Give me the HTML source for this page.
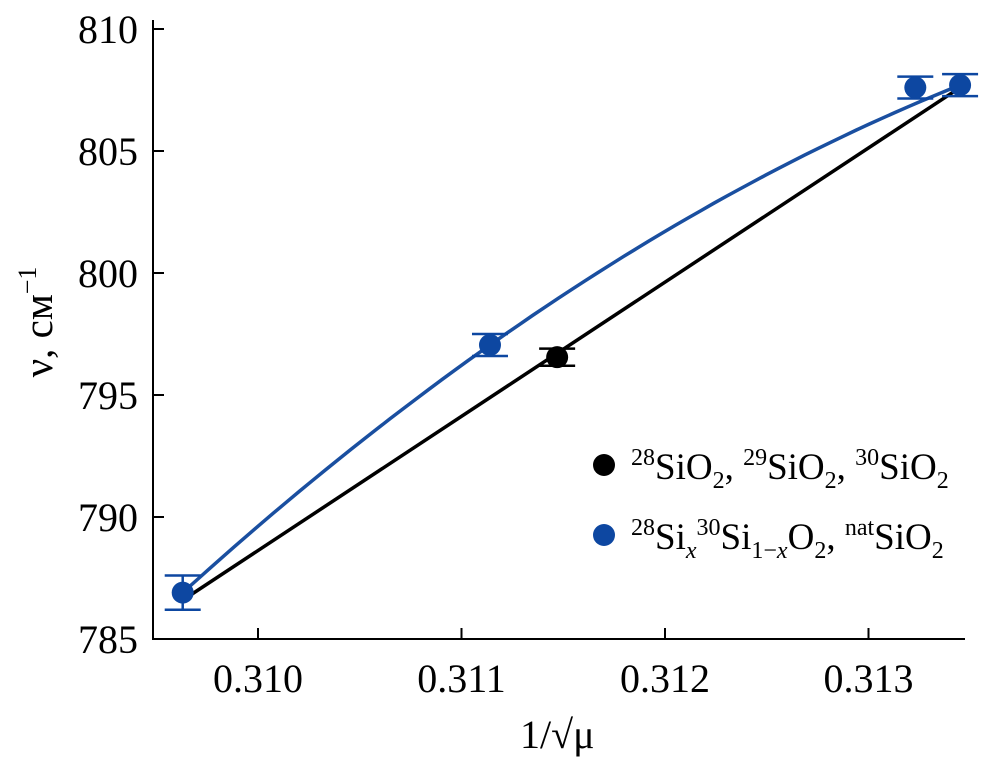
<!DOCTYPE html>
<html><head><meta charset="utf-8"><style>
body{margin:0;background:#fff}
svg text{font-family:"Liberation Serif",serif;fill:#000}
</style></head><body>
<svg id="chart" width="993" height="773" viewBox="0 0 993 773" xmlns="http://www.w3.org/2000/svg">
<g id="axes"></g>
<g id="marks"></g>
<text x="520" y="748" font-size="40">1/√μ</text>
<text transform="translate(52,322) rotate(-90)" text-anchor="middle" font-size="41">ν, см<tspan dy="-16" font-size="26">−1</tspan></text>
<g>
<circle cx="604" cy="465" r="11" fill="#000"/>
<text x="631" y="479" font-size="37"><tspan font-size="24" dy="-14">28</tspan><tspan dy="14">SiO</tspan><tspan font-size="24" dy="9">2</tspan><tspan dy="-9">, </tspan><tspan font-size="24" dy="-14">29</tspan><tspan dy="14">SiO</tspan><tspan font-size="24" dy="9">2</tspan><tspan dy="-9">, </tspan><tspan font-size="24" dy="-14">30</tspan><tspan dy="14">SiO</tspan><tspan font-size="24" dy="9">2</tspan></text>
<circle cx="604" cy="535" r="11" fill="#0d47a1"/>
<text x="631" y="549" font-size="37"><tspan font-size="24" dy="-14">28</tspan><tspan dy="14">Si</tspan><tspan font-size="24" font-style="italic" dy="9">x</tspan><tspan font-size="24" dy="-23">30</tspan><tspan dy="14">Si</tspan><tspan font-size="24" dy="9">1−<tspan font-style="italic">x</tspan></tspan><tspan dy="-9">O</tspan><tspan font-size="24" dy="9">2</tspan><tspan dy="-9">, </tspan><tspan font-size="24" dy="-14">nat</tspan><tspan dy="14">SiO</tspan><tspan font-size="24" dy="9">2</tspan></text>
</g>
</svg>
<script>
const xTicks=[0.310,0.311,0.312,0.313];
const xTickLabels=["0.310","0.311","0.312","0.313"];
const yTicks=[785,790,795,800,805,810];
const yTickLabels=["785","790","795","800","805","810"];
const blueX=[0.30963,0.31114,0.31323,0.31345];
const blueY=[786.9,797.05,807.6,807.7];
const blueErr=[0.7,0.45,0.45,0.45];
const blackX=[0.31147];
const blackY=[796.55];
const blackErr=[0.35];
const blackLineX=[0.30965,0.31345];
const blackLineY=[786.7,807.6];

const NS="http://www.w3.org/2000/svg";
const X=v=>258+(v-0.310)*203500;
const Y=v=>639-(v-785)*24.4;
function mk(tag,attrs,parent){const e=document.createElementNS(NS,tag);for(const k in attrs)e.setAttribute(k,attrs[k]);parent.appendChild(e);return e;}
const axes=document.getElementById('axes'),marks=document.getElementById('marks');
let e=mk('line',{x1:153,y1:639,x2:965,y2:639,stroke:'#000','stroke-width':2},axes);

e=mk('line',{x1:153,y1:20,x2:153,y2:640,stroke:'#000','stroke-width':2},axes);

xTicks.forEach((t,i)=>{
 e=mk('line',{x1:X(t),y1:639,x2:X(t),y2:628,stroke:'#000','stroke-width':2},axes);
 
 e=mk('text',{x:X(t),y:692,'text-anchor':'middle','font-size':40},axes);e.textContent=xTickLabels[i];
 
});
yTicks.forEach((t,i)=>{
 e=mk('line',{x1:153,y1:Y(t),x2:164,y2:Y(t),stroke:'#000','stroke-width':2},axes);
 
 e=mk('text',{x:138,y:Y(t)+14,'text-anchor':'end','font-size':40},axes);e.textContent=yTickLabels[i];
 
});
e=mk('line',{x1:X(blackLineX[0]),y1:Y(blackLineY[0]),x2:X(blackLineX[1]),y2:Y(blackLineY[1]),stroke:'#000','stroke-width':3.5},marks);

(function(){
 const n=blueX.length,xs=[blueX[0],blueX[1],blueX[n-1]],ys=[blueY[0],blueY[1],blueY[n-1]];
 const f=x=>{let s=0;for(let i=0;i<3;i++){let l=1;for(let j=0;j<3;j++)if(j!==i)l*=(x-xs[j])/(xs[i]-xs[j]);s+=ys[i]*l;}return s;};
 let d='';const a=blueX[0],b=blueX[n-1];
 for(let s=0;s<=60;s++){const xv=a+(b-a)*s/60;d+=(s?'L':'M')+X(xv).toFixed(1)+','+Y(f(xv)).toFixed(1);}
 const p=mk('path',{d:d,fill:'none',stroke:'#1a4fa0','stroke-width':3.5},marks);
 
})();
function pts(xs,ys,errs,col,name){
 xs.forEach((xv,i)=>{
  const cx=X(xv),cy=Y(ys[i]),t=Y(ys[i]+errs[i]),bt=Y(ys[i]-errs[i]);
  const g=mk('g',{},marks);
  
  mk('line',{x1:cx,y1:t,x2:cx,y2:bt,stroke:col,'stroke-width':2.5},g);
  mk('line',{x1:cx-18,y1:t,x2:cx+18,y2:t,stroke:col,'stroke-width':2.5},g);
  mk('line',{x1:cx-18,y1:bt,x2:cx+18,y2:bt,stroke:col,'stroke-width':2.5},g);
  mk('circle',{cx:cx,cy:cy,r:11,fill:col},g);
 });
}
pts(blueX,blueY,blueErr,'#0d47a1','blue');
pts(blackX,blackY,blackErr,'#000','black');
</script>
</body></html>
